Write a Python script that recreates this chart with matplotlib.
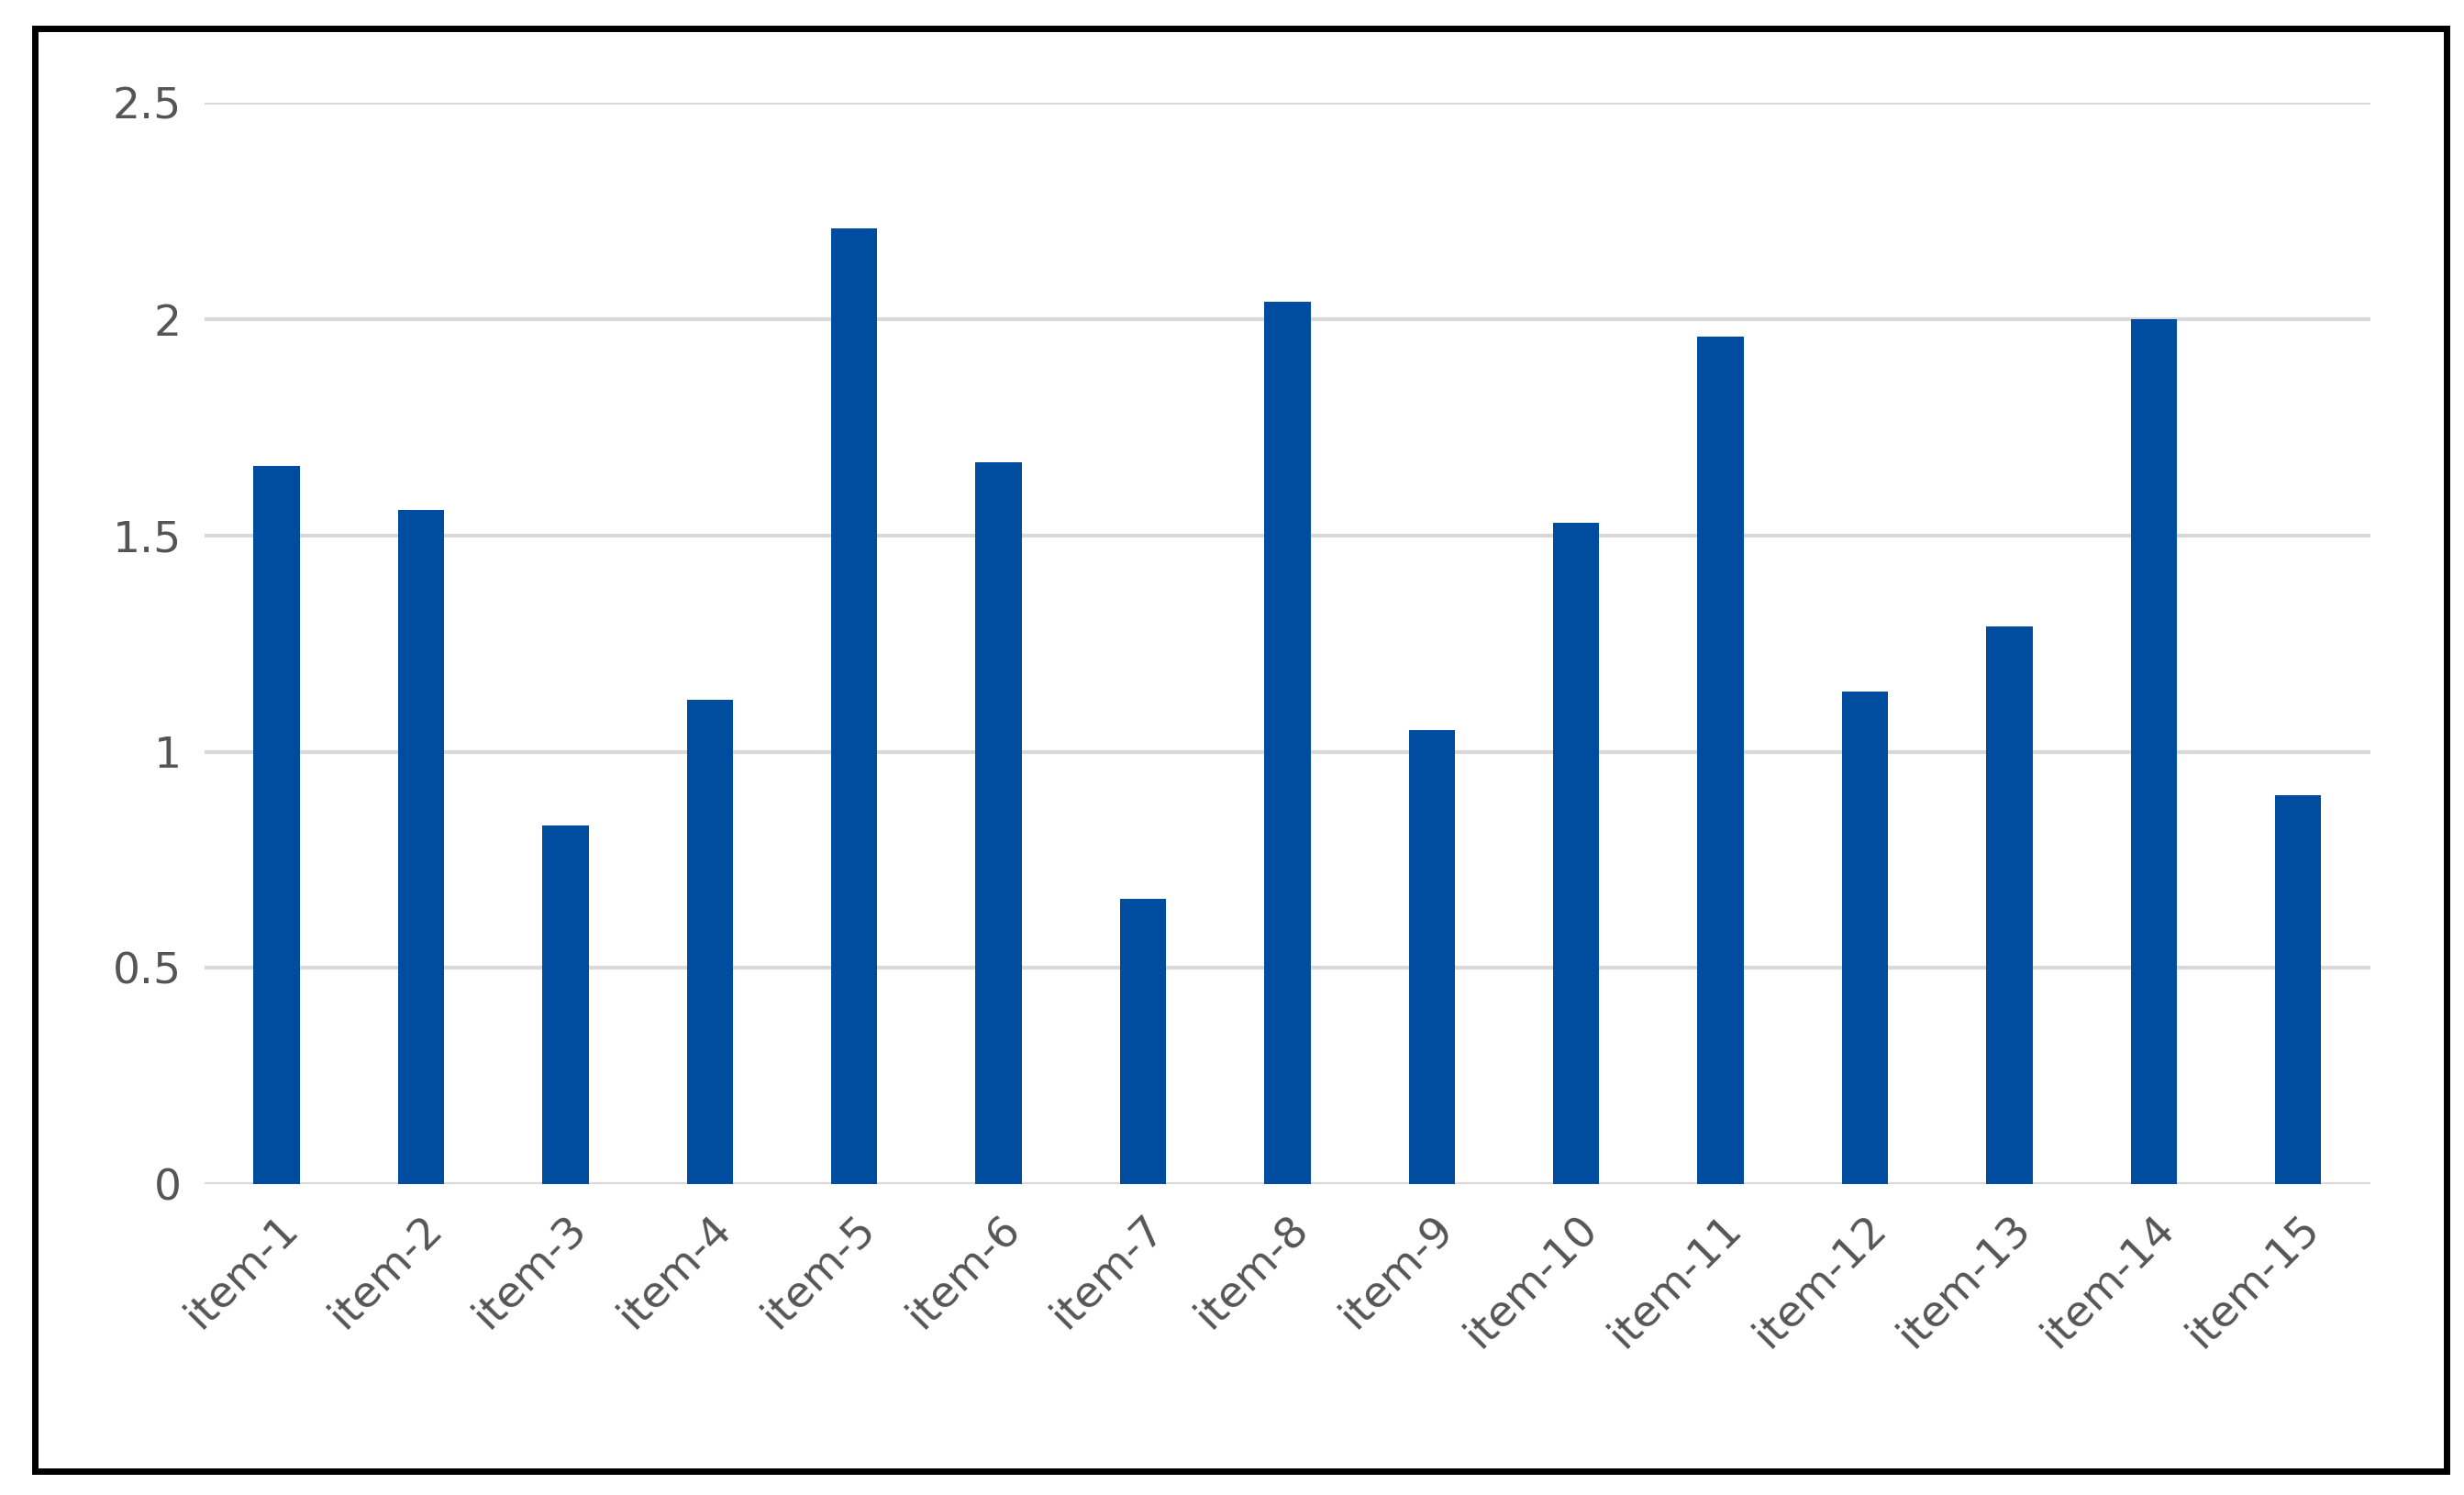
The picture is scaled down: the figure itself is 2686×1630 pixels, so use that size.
import numpy as np
import matplotlib.pyplot as plt
from matplotlib.patches import Rectangle

# valores
items = ['item-%d' % i for i in range(1, 16)]
valores = [1.66, 1.56, 0.83, 1.12, 2.21, 1.67, 0.66, 2.04, 1.05, 1.53, 1.96, 1.14, 1.29, 2.00, 0.90]
yticks = [0, 0.5, 1, 1.5, 2, 2.5]
ylabels = ['0', '0.5', '1', '1.5', '2', '2.5']

fig = plt.figure(figsize=(26.86, 16.30), dpi=100)
ax = fig.add_axes([0.083, 0.208, 0.879, 0.723])

x = np.arange(len(items))
ax.bar(x, valores, width=0.32, color='#004C9F', zorder=3)

ax.set_xlim(-0.5, len(items) - 0.5)
ax.set_ylim(0, 2.5)
ax.set_yticks(yticks)
ax.set_yticklabels(ylabels, fontsize=34, color='#555555')
ax.set_xticks(x)
ax.set_xticklabels(items, rotation=45, ha='right', rotation_mode='anchor',
                   fontsize=34, color='#555555')
ax.tick_params(length=0, pad=18)
ax.grid(axis='y', color='#d9d9d9', linewidth=3, zorder=0)
for s in ax.spines.values():
    s.set_visible(False)

# marco exterior
fig.patches.append(Rectangle((0.014, 0.016), 0.979, 0.965, transform=fig.transFigure,
                             fill=False, edgecolor='black', linewidth=5))

fig.savefig('out.png', dpi=100)
